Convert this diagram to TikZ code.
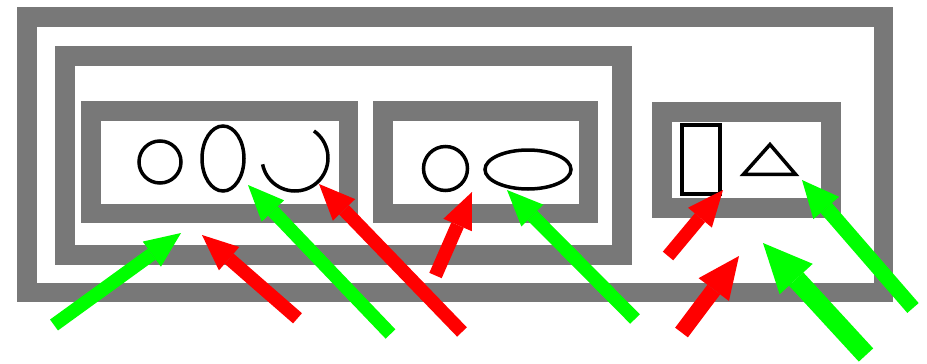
\documentclass[tikz,border=0pt]{standalone}
\usetikzlibrary{arrows.meta,shapes.geometric}
\definecolor{framegray}{gray}{0.47}
\definecolor{agreen}{RGB}{0,255,0}
\definecolor{ared}{RGB}{255,0,0}
\tikzset{
  frame/.style={draw=framegray,line width=19.5pt,line join=miter},
  outline/.style={draw=black,line width=3.5pt,inner sep=0pt,outer sep=0pt},
  arr/.style={line width=13.5pt,-{Triangle[width=31pt,length=36pt,line width=0pt]}},
  medarr/.style={line width=16pt,-{Triangle[width=38pt,length=42pt,line width=0pt]}},
  bigarr/.style={line width=19.5pt,-{Triangle[width=45pt,length=49pt,line width=0pt]}},
}
\begin{document}
\begin{tikzpicture}[x=1pt,y=-1pt]
\useasboundingbox (0,0) rectangle (927,364);
% frames
\draw[frame] (26.75,16.75) rectangle (883.25,292.25);
\draw[frame] (65,56) rectangle (622,255);
\draw[frame] (90.75,110.75) rectangle (348.25,213.25);
\draw[frame] (382.75,110.75) rectangle (588.25,213.25);
\draw[frame] (662,112) rectangle (831,208);
% shapes
\node[outline,circle,minimum size=42pt] (c1) at (160,162) {};
\node[outline,ellipse,minimum width=42pt,minimum height=65pt] (e1) at (223,158.5) {};
\coordinate (arcc) at (295,158);
\draw[black,line width=3.5pt] ([shift={(-55:33)}]arcc) arc[start angle=-55,end angle=169,radius=33];
\node[outline,circle,minimum size=44pt] (c2) at (445.5,168.5) {};
\node[outline,ellipse,minimum width=86pt,minimum height=39pt] (e2) at (528,169.5) {};
\node[outline,rectangle,minimum width=38pt,minimum height=69pt] (r1) at (701,159.5) {};
\draw[black,line width=3.5pt,line join=miter] (770,144.5) -- (743.5,174.25) -- (795.5,174.25) -- cycle;
% arrow end points
\coordinate (aT) at (54,325);    \coordinate (aH) at (181,233);
\coordinate (bT) at (297.5,318.3); \coordinate (bH) at (202,235);
\coordinate (cT) at (390.5,334); \coordinate (cH) at (248,185);
\coordinate (dT) at (462,332);   \coordinate (dH) at (319,184);
\coordinate (eT) at (435.5,275.5); \coordinate (eH) at (472,192);
\coordinate (fT) at (635,319);   \coordinate (fH) at (507,190);
\coordinate (gT) at (668,256);   \coordinate (gH) at (723,190);
\coordinate (hT) at (681.5,332.5); \coordinate (hH) at (739,256);
\coordinate (iT) at (866,355);   \coordinate (iH) at (763,243);
\coordinate (jT) at (913,308);   \coordinate (jH) at (802,180);
% arrows
\draw[arr,agreen] (aT) -- (aH);
\draw[arr,ared] (bT) -- (bH);
\draw[arr,agreen] (cT) -- (cH);
\draw[arr,ared] (dT) -- (dH);
\draw[arr,ared] (eT) -- (eH);
\draw[arr,agreen] (fT) -- (fH);
\draw[arr,ared] (gT) -- (gH);
\draw[medarr,ared] (hT) -- (hH);
\draw[bigarr,agreen] (iT) -- (iH);
\draw[agreen,line width=15pt,-{Triangle[width=34pt,length=37pt,line width=0pt]}] (jT) -- (jH);
\end{tikzpicture}
\end{document}
